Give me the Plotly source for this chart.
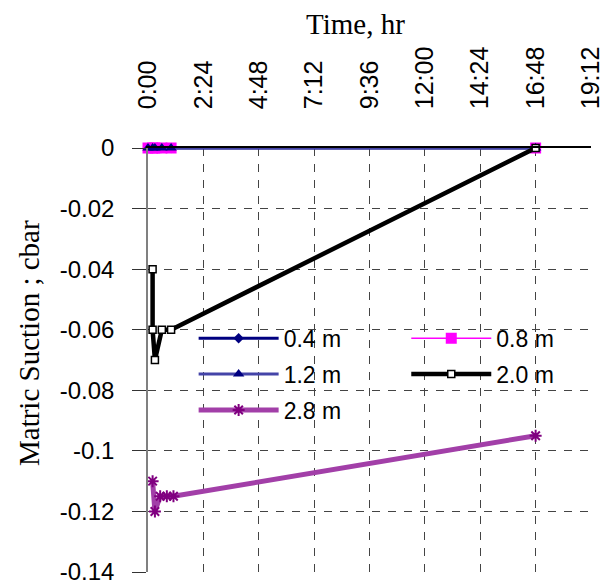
import plotly.graph_objects as go

# ---- data (time in days, suction in cbar) ----
t_04 = [0, 0.0083, 0.0125, 0.025, 0.0417, 0.7]
s_04 = [0, 0, 0, 0, 0, 0]

t_08 = [0, 0.0083, 0.0125, 0.025, 0.0417, 0.7]
s_08 = [0, 0, 0, 0, 0, 0]

t_12 = [0, 0.0083, 0.0125, 0.025, 0.0417, 0.7]
s_12 = [0, 0, 0, 0, 0, 0]

t_20 = [0.0083, 0.0083, 0.0125, 0.025, 0.0417, 0.7]
s_20 = [-0.04, -0.06, -0.07, -0.06, -0.06, 0]

t_28 = [0.0083, 0.0125, 0.022, 0.034, 0.046, 0.7]
s_28 = [-0.11, -0.12, -0.115, -0.115, -0.115, -0.095]

x_tickvals = [0, 0.1, 0.2, 0.3, 0.4, 0.5, 0.6, 0.7, 0.8]
x_ticktext = ["0:00", "2:24", "4:48", "7:12", "9:36", "12:00", "14:24", "16:48", "19:12"]
y_tickvals = [0, -0.02, -0.04, -0.06, -0.08, -0.1, -0.12, -0.14]
y_ticktext = ["0", "-0.02", "-0.04", "-0.06", "-0.08", "-0.1", "-0.12", "-0.14"]

SANS = "Liberation Sans, Arial, sans-serif"
SERIF = "Liberation Serif, Times New Roman, serif"

fig = go.Figure()

fig.add_trace(go.Scatter(
    x=t_04, y=s_04, name="0.4 m", mode="lines+markers", cliponaxis=False,
    line=dict(color="#000080", width=3),
    marker=dict(symbol="diamond", size=8, color="#000080"),
    legend="legend", legendgroup="a"))
fig.add_trace(go.Scatter(
    x=t_08, y=s_08, name="0.8 m", mode="lines+markers", cliponaxis=False,
    line=dict(color="#FF00FF", width=1.5),
    marker=dict(symbol="square", size=11, color="#FF00FF"),
    legend="legend2", legendgroup="b"))
fig.add_trace(go.Scatter(
    x=t_12, y=s_12, name="1.2 m", mode="lines+markers", cliponaxis=False,
    line=dict(color="#4444A8", width=3),
    marker=dict(symbol="triangle-up", size=10, color="#000080"),
    legend="legend", legendgroup="c"))
fig.add_trace(go.Scatter(
    x=t_20, y=s_20, name="2.0 m", mode="lines+markers", cliponaxis=False,
    line=dict(color="#000000", width=4.5),
    marker=dict(symbol="square", size=7, color="#FFFFFF",
                line=dict(color="#000000", width=1.5)),
    legend="legend2", legendgroup="d"))
fig.add_trace(go.Scatter(
    x=t_28, y=s_28, name="2.8 m", mode="lines+markers", cliponaxis=False,
    line=dict(color="#A23FA8", width=5),
    marker=dict(symbol="asterisk", size=10, color="#800080",
                line=dict(color="#800080", width=2)),
    legend="legend", legendgroup="e"))

legend_common = dict(
    bgcolor="rgba(0,0,0,0)", borderwidth=0,
    font=dict(family=SANS, size=23, color="#000000"),
    traceorder="grouped", tracegroupgap=3, itemwidth=80,
    xanchor="left", yanchor="top",
)

fig.update_layout(
    width=613, height=585,
    margin=dict(l=148, r=22, t=148, b=13),
    paper_bgcolor="white", plot_bgcolor="white",
    showlegend=True,
    legend=dict(x=0.103, y=0.602, **legend_common),
    legend2=dict(x=0.583, y=0.602, **legend_common),
    xaxis=dict(
        range=[0, 0.8], side="top", tickmode="array", automargin=False,
        tickvals=x_tickvals, ticktext=x_ticktext, tickangle=-90,
        tickfont=dict(family=SANS, size=25, color="#000000"),
        ticks="", ticklabelstandoff=32, ticklabeloverflow="allow",
        showline=True, linecolor="#000000", linewidth=1.5,
        showgrid=True, gridcolor="#444444", griddash="8px,8px", gridwidth=1,
        zeroline=False,
    ),
    yaxis=dict(
        range=[-0.14, 0], tickmode="array", automargin=False,
        tickvals=y_tickvals, ticktext=y_ticktext,
        tickfont=dict(family=SANS, size=24, color="#000000"),
        ticks="outside", ticklen=14, tickcolor="#333333", tickwidth=1,
        ticklabelstandoff=13, ticklabeloverflow="allow",
        showline=True, linecolor="#808080", linewidth=1.5,
        showgrid=True, gridcolor="#444444", griddash="8px,8px", gridwidth=1,
        zeroline=False,
    ),
    annotations=[
        dict(text="Time, hr", xref="paper", yref="paper",
             x=(355 - 148) / 443, y=1 + (148 - 24) / 424,
             xanchor="center", yanchor="middle", showarrow=False,
             font=dict(family=SERIF, size=29, color="#000000")),
        dict(text="Matric Suction ; cbar", xref="paper", yref="paper",
             x=-(148 - 29) / 443, y=(572 - 343) / 424, textangle=-90,
             xanchor="center", yanchor="middle", showarrow=False,
             font=dict(family=SERIF, size=29, color="#000000")),
    ],
)

fig.write_html("out.html")
